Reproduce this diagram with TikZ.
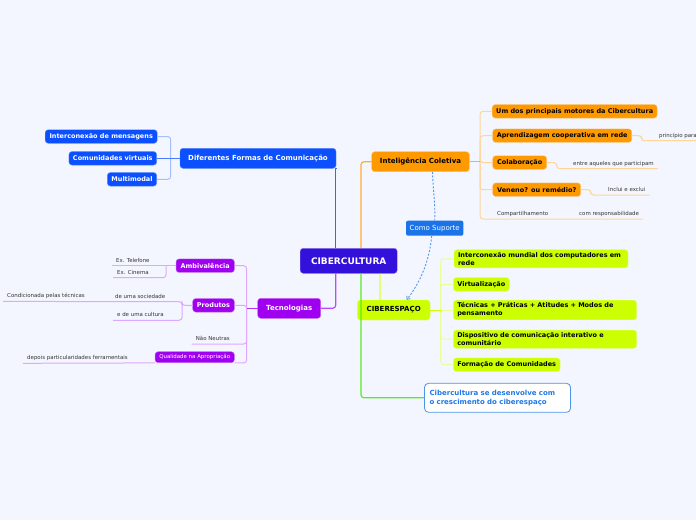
\documentclass[tikz,border=0pt]{standalone}
\usepackage{fontspec}
\setmainfont{DejaVu Sans}
\usepackage{xcolor}
\usetikzlibrary{arrows.meta}
\definecolor{bgc}{HTML}{F3F6FE}
\definecolor{rootc}{HTML}{3311DB}
\definecolor{bluec}{HTML}{0B4FFF}
\definecolor{bluel}{HTML}{A3BFFF}
\definecolor{orangec}{HTML}{FF9900}
\definecolor{orangel}{HTML}{FFD599}
\definecolor{purplec}{HTML}{A000F0}
\definecolor{purplel}{HTML}{DDA8FF}
\definecolor{limec}{HTML}{CCFF00}
\definecolor{limel}{HTML}{E8FF99}
\definecolor{greenc}{HTML}{55EE22}
\definecolor{suportec}{HTML}{1A73E8}
\definecolor{notec}{HTML}{1F78E5}
\definecolor{leafc}{HTML}{333333}
\tikzstyle{root} = [rectangle, rounded corners=3pt, fill=rootc, draw=rootc!60!white, text=white,
                    font=\fontsize{9}{10}\selectfont\bfseries, minimum width=97pt, minimum height=25pt]
\tikzstyle{topic} = [rectangle, rounded corners=3pt, font=\fontsize{7}{8.5}\selectfont\bfseries,
                     minimum height=20pt, inner xsep=4pt]
\tikzstyle{sub} = [rectangle, rounded corners=3pt, font=\fontsize{6.5}{8}\selectfont\bfseries,
                   minimum height=13.5pt, inner xsep=4pt, inner ysep=1.5pt]
\tikzstyle{wide} = [sub, align=left, inner xsep=4pt, inner ysep=2.5pt]
\tikzstyle{leaf} = [anchor=south west, inner xsep=4pt, inner ysep=2pt, text depth=1.5pt,
                    text=leafc, font=\fontsize{5.45}{6.5}\selectfont]
\tikzstyle{blueset} = [fill=bluec, draw=bluec!70!white, text=white]
\tikzstyle{orangeset} = [fill=orangec, draw=orangec!60!white, text=black]
\tikzstyle{purpleset} = [fill=purplec, draw=purplec!60!white, text=white]
\tikzstyle{limeset} = [fill=limec, draw=limec!60!white, text=black]
\tikzstyle{bline} = [draw=bluel, line width=1pt, rounded corners=3pt]
\tikzstyle{oline} = [draw=orangel, line width=1pt, rounded corners=3pt]
\tikzstyle{pline} = [draw=purplel, line width=1pt, rounded corners=3pt]
\tikzstyle{lline} = [draw=limel, line width=1pt, rounded corners=3pt]
\tikzstyle{dashline} = [draw=suportec!75!white, line width=0.9pt, dash pattern=on 2pt off 1.6pt]

\begin{document}
\begin{tikzpicture}[x=1pt,y=-1pt]
    \useasboundingbox (0,0) rectangle (696,520);
    \fill[bgc] (0,0) rectangle (696,520);
    \clip (0,0) rectangle (696,520);

    \node[root] (ciber) at (348.7,260.8) {CIBERCULTURA};

    \node[topic, blueset, minimum width=156pt] (difcom) at (258,158.3) {Diferentes Formas de Comunicação};
    \node[sub, blueset, minimum width=112pt] (intmsg) at (101.2,136.5) {Interconexão de mensagens};
    \node[sub, blueset, minimum width=87.7pt] (comvirt) at (112.8,158.3) {Comunidades virtuais};
    \node[sub, blueset, minimum width=49.3pt] (multi) at (132,179.3) {Multimodal};
    \coordinate (difb) at (170.7,158.3);
    \draw[bline] (intmsg.east) -| (difb);
    \draw[bline] (multi.east) -| (difb);
    \draw[bline, draw=bluec!75!white] (comvirt.east) -- (difcom.west);
    \draw[line width=1.2pt, draw=bluec!85!white] ([xshift=-13pt]ciber.north) |- (difcom.south east);

    \node[topic, orangeset, minimum width=97.6pt] (intel) at (420.5,161.7) {Inteligência Coletiva};
    \node[sub, orangeset, minimum width=164pt] (um) at (574.7,111.3) {Um dos principais motores da Cibercultura};
    \node[sub, orangeset, minimum width=139pt] (aprend) at (562.2,135.7) {Aprendizagem cooperativa em rede};
    \node[sub, orangeset, minimum width=54pt] (colab) at (519.7,162.5) {Colaboração};
    \node[sub, orangeset, minimum width=88pt] (ven) at (536.7,189.7) {Veneno? ou remédio?};
    \node[leaf] (princ) at (655,140.7) {princípio para};
    \node[leaf] (entre) at (569,168.7) {entre aqueles que participam};
    \node[leaf] (inclui) at (604,195) {Inclui e exclui};
    \node[leaf] (comp) at (493,219) {Compartilhamento};
    \node[leaf] (resp) at (575,219) {com responsabilidade};
    \coordinate (intb) at (480,161.7);
    \coordinate (aprb) at (641.7,140.7);
    \coordinate (colb) at (556.7,168.7);
    \coordinate (venb) at (590.7,195);
    \draw[oline] (um.west) -| (intb);
    \draw[oline] (aprend.west) -| (intb);
    \draw[oline] (colab.west) -| (intb);
    \draw[oline] (ven.west) -| (intb);
    \draw[oline] (resp.south east) -- (comp.south west) -| (intb);
    \draw[oline, draw=orangec!80!white] (intel.east) -- (intb);
    \draw[oline] (aprend.east) -| (aprb) -- (princ.south east);
    \draw[oline] (colab.east) -| (colb) -- (entre.south east);
    \draw[oline] (ven.east) -| (venb) -- (inclui.south east);
    \draw[line width=1.2pt, draw=orangec!80!white, rounded corners=3pt] (intel.west) -| ([xshift=12.3pt]ciber.north);

    \node[rectangle, rounded corners=2pt, fill=suportec, text=white, font=\fontsize{7}{8}\selectfont,
          minimum width=57.3pt, minimum height=15pt] (como) at (434.7,228.2) {Como Suporte};

    \node[topic, limeset, minimum width=72.7pt] (ciberesp) at (393.7,310) {CIBERESPAÇO};
    \node[wide, limeset, text width=166pt] (inter) at (541,258.8) {Interconexão mundial dos computadores em\\rede};
    \node[sub, limeset, minimum width=56pt] (virt) at (481.3,284.3) {Virtualização};
    \node[wide, limeset, text width=175.4pt] (tecn) at (545,310) {Técnicas + Práticas + Atitudes + Modos de\\pensamento};
    \node[wide, limeset, text width=175.4pt] (disp) at (545,339.2) {Dispositivo de comunicação interativo e\\comunitário};
    \node[sub, limeset, minimum width=106.7pt] (form) at (506.7,364.7) {Formação de Comunidades};
    \coordinate (limeb) at (440.7,310);
    \draw[lline] (inter.west) -| (limeb);
    \draw[lline] (virt.west) -| (limeb);
    \draw[lline] (disp.west) -| (limeb);
    \draw[lline] (form.west) -| (limeb);
    \draw[lline] (tecn.west) -- (limeb);
    \draw[lline, draw=limec] (ciberesp.east) -- (limeb);
    \draw[line width=1.2pt, draw=limec!55!white] ([xshift=31.3pt]ciber.south) -- ([xshift=31.3pt]ciber.south |- ciberesp.north);

    \node[rectangle, rounded corners=4pt, draw=notec!80!white, line width=0.8pt, fill=white, text=notec,
          font=\fontsize{7}{8.7}\selectfont\bfseries, text width=136pt, align=left, inner xsep=5pt,
          minimum height=29pt] (cres) at (497.5,397.8) {Cibercultura se desenvolve com\\o crescimento do ciberespaço};
    \draw[line width=1.2pt, draw=greenc, rounded corners=3pt] ([xshift=12.3pt]ciber.south) |- (cres.west);

    \draw[dashline] ([xshift=12pt]intel.south) .. controls (433,190) and (435.5,205) .. (como.north);
    \draw[dashline, -{Straight Barb[length=2.5pt,width=4.5pt]}] ([xshift=-3pt]como.south) .. controls (429,265) and (418,285) .. ([xshift=13pt]ciberesp.north);

    \node[topic, purpleset, minimum width=63pt] (tec) at (289.2,308.3) {Tecnologias};
    \node[sub, purpleset, minimum width=58.3pt] (ambiv) at (205.2,265.7) {Ambivalência};
    \node[sub, purpleset, minimum width=41.6pt] (prod) at (213.5,305.3) {Produtos};
    \node[sub, purpleset, minimum width=79.3pt, minimum height=11pt, inner ysep=1pt,
          font=\fontsize{5.45}{6.5}\selectfont] (qual) at (194.7,357.2) {Qualidade na Apropriação};
    \node[leaf] (tel) at (112,265.7) {Ex. Telefone};
    \node[leaf] (cin) at (113,277.7) {Ex. Cinema};
    \node[leaf] (soc) at (111,301.7) {de uma sociedade};
    \node[leaf] (cult) at (113,320.3) {e de uma cultura};
    \node[leaf] (cond) at (3,301.3) {Condicionada pelas técnicas};
    \node[leaf] (naoneu) at (191.7,344) {Não Neutras};
    \node[leaf] (dep) at (23,363.3) {depois particularidades ferramentais};
    \coordinate (tecb) at (246.7,308.3);
    \coordinate (ambb) at (166,265.7);
    \coordinate (prodb) at (182,305.3);
    \draw[pline] (ambiv.east) -| (tecb);
    \draw[pline] (prod.east) -| (tecb);
    \draw[pline] (naoneu.south west) -| (tecb);
    \draw[pline] (qual.south east) -| (tecb);
    \draw[pline, draw=purplec!80!white] (tec.west) -- (tecb);
    \draw[pline] (tel.south west) -- (ambiv.west);
    \draw[pline] (cin.south west) -| (ambb);
    \draw[pline] (soc.south west) -| (prodb) -- (prod.west);
    \draw[pline] (cult.south west) -| (prodb);
    \draw[pline] (cond.south west) -- (soc.south west);
    \draw[pline] (dep.south west) -- (qual.south west);
    \draw[line width=1.2pt, draw=purplec!70!white, rounded corners=3pt] ([xshift=-13pt]ciber.south) |- (tec.east);
\end{tikzpicture}
\end{document}
